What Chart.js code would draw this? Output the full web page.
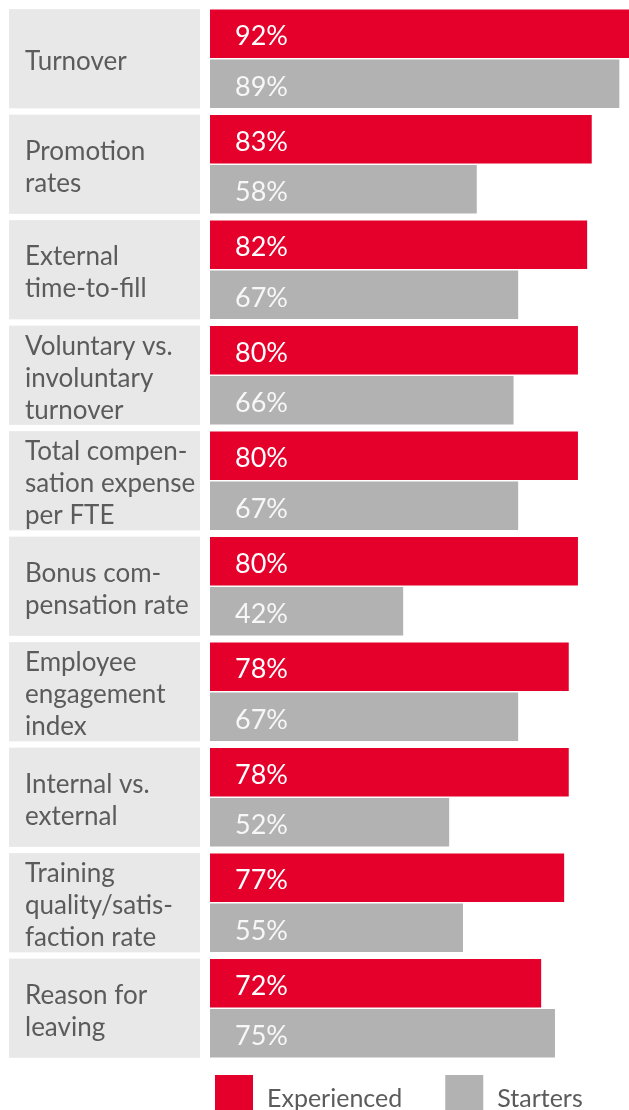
<!DOCTYPE html>
<html>
<head>
<meta charset="utf-8">
<script src="https://cdn.jsdelivr.net/npm/chart.js@4"></script>
<style>
  html, body { margin: 0; padding: 0; background: #fff; }
  #wrap { width: 629px; height: 1110px; position: relative; }
</style>
</head>
<body>
<div id="wrap"><canvas id="kpiChart"></canvas></div>
<script>
const categories = [
  ['Turnover'],
  ['Promotion', 'rates'],
  ['External', 'time-to-fill'],
  ['Voluntary vs.', 'involuntary', 'turnover'],
  ['Total compen-', 'sation expense', 'per FTE'],
  ['Bonus com-', 'pensation rate'],
  ['Employee', 'engagement', 'index'],
  ['Internal vs.', 'external'],
  ['Training', 'quality/satis-', 'faction rate'],
  ['Reason for', 'leaving']
]
const experienced = [92, 83, 82, 80, 80, 80, 78, 78, 77, 72]
const starters = [89, 58, 67, 66, 67, 42, 67, 52, 55, 75]

const RED = '#e4002b'
const GREY = '#b2b2b2'
const TEXT = '#5b5b5b'
const FONT = 'Lato, "Open Sans", sans-serif'

// light grey panels behind the category names
const labelBoxes = {
  id: 'labelBoxes',
  beforeDraw(chart) {
    const ctx = chart.ctx
    const y = chart.scales.y
    const half = (y.getPixelForValue(1) - y.getPixelForValue(0)) * 0.47
    ctx.save()
    ctx.fillStyle = '#e8e8e8'
    categories.forEach((c, i) => {
      const mid = y.getPixelForValue(i)
      ctx.fillRect(9, mid - half, 191, half * 2)
    })
    ctx.restore()
  }
}

// percentage written inside the start of each bar
const barValues = {
  id: 'barValues',
  afterDatasetsDraw(chart) {
    const ctx = chart.ctx
    ctx.save()
    ctx.font = '27px ' + FONT
    ctx.textBaseline = 'middle'
    ctx.textAlign = 'left'
    chart.data.datasets.forEach((ds, di) => {
      chart.getDatasetMeta(di).data.forEach((bar, i) => {
        ctx.fillStyle = di === 0 ? '#ffffff' : '#f7f7f7'
        ctx.fillText(ds.data[i] + '%', bar.base + 25, bar.y + 3)
      })
    })
    ctx.restore()
  }
}

// legend below the bars
const bottomLegend = {
  id: 'bottomLegend',
  afterDraw(chart) {
    const ctx = chart.ctx
    let x = chart.chartArea.left + 5
    const top = chart.chartArea.bottom + 14
    ctx.save()
    ctx.font = '25px ' + FONT
    ctx.textBaseline = 'alphabetic'
    chart.data.datasets.forEach(ds => {
      ctx.fillStyle = ds.backgroundColor
      ctx.fillRect(x, top, 38, 38)
      ctx.fillStyle = TEXT
      ctx.fillText(ds.label, x + 52, top + 32)
      x += 52 + ctx.measureText(ds.label).width + 43
    })
    ctx.restore()
  }
}

new Chart(document.getElementById('kpiChart'), {
  type: 'bar',
  data: {
    labels: categories,
    datasets: [
      { label: 'Experienced', data: experienced, backgroundColor: RED },
      { label: 'Starters', data: starters, backgroundColor: GREY }
    ]
  },
  options: {
    indexAxis: 'y',
    responsive: true,
    maintainAspectRatio: false,
    animation: false,
    categoryPercentage: 0.95,
    barPercentage: 0.97,
    layout: { padding: { left: 25, right: 0, top: 6, bottom: 49 } },
    scales: {
      x: { display: false, min: 0, max: 91.1 },
      y: {
        grid: { display: false },
        border: { display: false },
        afterFit(scale) {
          scale.width = 185
          scale.paddingTop = 0
          scale.paddingBottom = 0
        },
        ticks: {
          crossAlign: 'far',
          padding: 0,
          labelOffset: 3,
          color: TEXT,
          font: { family: FONT, size: 26, lineHeight: 1.23 }
        }
      }
    },
    plugins: {
      legend: { display: false },
      tooltip: { enabled: false }
    }
  },
  plugins: [labelBoxes, barValues, bottomLegend]
})
</script>
</body>
</html>
